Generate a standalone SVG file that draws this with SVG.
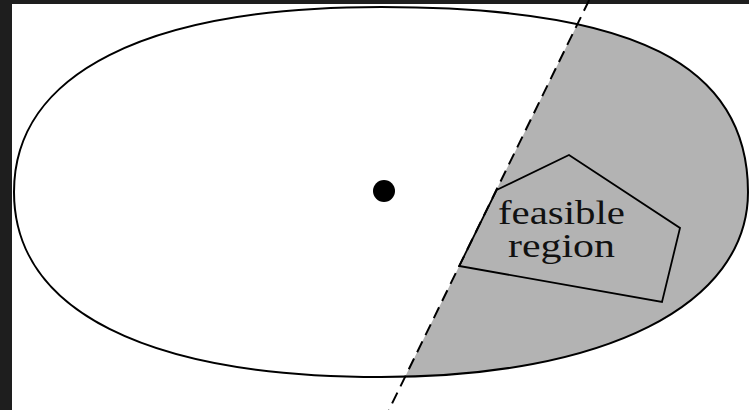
<svg xmlns="http://www.w3.org/2000/svg" width="749" height="410" viewBox="0 0 749 410">
<style>
.outline{fill:none;stroke:#000;stroke-width:2}
.label{font-family:"Liberation Serif","DejaVu Serif",serif;font-size:33px;fill:#111;text-anchor:start}
</style>
<defs>
<path id="shape" d="M14,192 C14,73.6 146.1,7 381,7 C634.2,7 748,64.4 748,192 C748,304.9 604.9,377 381,377 C146.1,377 14,310.4 14,192 Z"/>
<clipPath id="rightHalf"><polygon points="589.2,0 749,0 749,410 388.9,410"/></clipPath>
</defs>
<rect x="0" y="0" width="749" height="410" fill="#1e1e1e"/>
<rect x="12" y="4" width="737" height="406" fill="#fff"/>
<g id="shaded-region">
<use href="#shape" fill="#b3b3b3" clip-path="url(#rightHalf)"/>
</g>
<g id="ellipse">
<use href="#shape" class="outline"/>
</g>
<g id="connectors">
<line id="cut-line" x1="589.2" y1="0" x2="388.9" y2="410" stroke="#000" stroke-width="2" stroke-dasharray="12 7"/>
</g>
<g id="feasible-region">
<polygon points="496.6,190 569,155 680,228 662,302 459.2,266" fill="none" stroke="#000" stroke-width="1.8" stroke-linejoin="miter"/>
<text class="label" x="498" y="224" textLength="127" lengthAdjust="spacingAndGlyphs">feasible</text>
<text class="label" x="508" y="257" textLength="107" lengthAdjust="spacingAndGlyphs">region</text>
</g>
<g id="center-point">
<circle cx="384" cy="191" r="11" fill="#000"/>
</g>
</svg>
